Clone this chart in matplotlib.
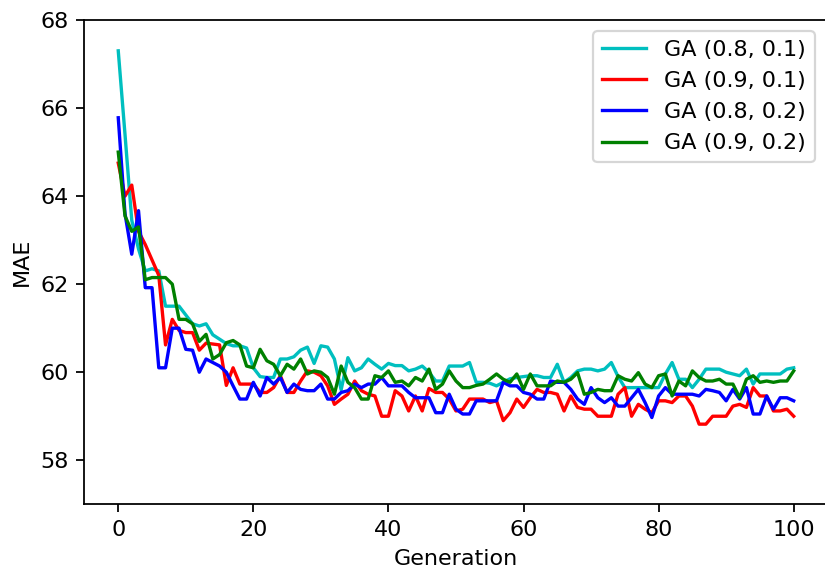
import matplotlib
matplotlib.use("Agg")
import matplotlib.pyplot as plt
import numpy as np

generations = list(range(101))

ga_08_01 = [67.3, 65.4, 63.45, 62.8, 62.3, 62.35, 62.3, 61.5, 61.5, 61.5,
            61.3, 61.1, 61.05, 61.1, 60.85, 60.75, 60.65, 60.6, 60.6, 60.55,
            60.1, 59.9, 59.88, 59.88, 60.3, 60.3, 60.35, 60.5, 60.57, 60.2,
            60.6, 60.57, 60.3, 59.6, 60.33, 60.03, 60.1, 60.3, 60.18, 60.07,
            60.2, 60.15, 60.15, 60.03, 60.07, 60.14, 60.0, 59.8, 59.8, 60.14,
            60.14, 60.14, 60.22, 59.77, 59.77, 59.75, 59.69, 59.77, 59.85, 59.88,
            59.9, 59.92, 59.92, 59.88, 59.88, 60.18, 59.77, 59.88, 60.03, 60.07,
            60.07, 60.03, 60.07, 60.22, 59.9, 59.65, 59.65, 59.65, 59.65, 59.65,
            59.65, 59.96, 60.22, 59.84, 59.84, 59.65, 59.84, 60.07, 60.07, 60.07,
            60.0, 59.96, 59.92, 60.07, 59.73, 59.96, 59.96, 59.96, 59.96, 60.07,
            60.1]

ga_09_01 = [64.75, 64.0, 64.25, 63.2, 62.9, 62.55, 62.2, 60.62, 61.2, 60.95,
            60.9, 60.9, 60.5, 60.66, 60.64, 60.62, 59.7, 60.1, 59.73, 59.73,
            59.73, 59.54, 59.54, 59.65, 59.92, 59.54, 59.54, 59.8, 60.03, 60.0,
            59.92, 59.69, 59.27, 59.39, 59.5, 59.8, 59.58, 59.5, 59.46, 59.0,
            59.0, 59.58, 59.46, 59.12, 59.46, 59.12, 59.63, 59.54, 59.54, 59.39,
            59.12, 59.16, 59.39, 59.39, 59.39, 59.31, 59.35, 58.9, 59.08, 59.39,
            59.2, 59.42, 59.61, 59.54, 59.54, 59.5, 59.12, 59.46, 59.2, 59.16,
            59.16, 59.0, 59.0, 59.0, 59.5, 59.65, 59.0, 59.27, 59.16, 59.08,
            59.35, 59.35, 59.31, 59.46, 59.46, 59.23, 58.82, 58.82, 59.0, 59.0,
            59.0, 59.23, 59.27, 59.2, 59.65, 59.46, 59.46, 59.12, 59.12, 59.16,
            59.0]

ga_08_02 = [65.78, 63.6, 62.68, 63.67, 61.92, 61.92, 60.1, 60.1, 61.0, 61.0,
            60.52, 60.5, 60.0, 60.3, 60.22, 60.14, 60.0, 59.69, 59.39, 59.39,
            59.77, 59.46, 59.88, 59.73, 59.88, 59.54, 59.73, 59.61, 59.58, 59.58,
            59.73, 59.39, 59.39, 59.54, 59.58, 59.73, 59.65, 59.73, 59.73, 59.88,
            59.69, 59.69, 59.69, 59.54, 59.42, 59.42, 59.42, 59.08, 59.08, 59.5,
            59.16, 59.05, 59.05, 59.35, 59.35, 59.35, 59.35, 59.77, 59.69, 59.69,
            59.54, 59.5, 59.39, 59.39, 59.8, 59.77, 59.77, 59.61, 59.39, 59.27,
            59.65, 59.42, 59.31, 59.42, 59.23, 59.23, 59.42, 59.61, 59.31, 58.97,
            59.46, 59.65, 59.5, 59.5, 59.5, 59.5, 59.46, 59.61, 59.58, 59.54,
            59.35, 59.61, 59.39, 59.65, 59.05, 59.05, 59.46, 59.16, 59.42, 59.42,
            59.35]

ga_09_02 = [65.0, 63.55, 63.2, 63.3, 62.1, 62.15, 62.15, 62.15, 62.0, 61.2,
            61.2, 61.1, 60.7, 60.86, 60.3, 60.4, 60.67, 60.72, 60.62, 60.14,
            60.1, 60.52, 60.26, 60.18, 59.92, 60.18, 60.07, 60.3, 59.96, 60.03,
            60.0, 59.88, 59.5, 60.14, 59.77, 59.65, 59.39, 59.39, 59.92, 59.88,
            60.03, 59.77, 59.8, 59.69, 59.88, 59.8, 60.07, 59.61, 59.73, 60.03,
            59.8, 59.65, 59.65, 59.7, 59.73, 59.84, 59.96, 59.84, 59.77, 59.96,
            59.61, 59.96, 59.69, 59.69, 59.69, 59.8, 59.77, 59.84, 59.99, 59.5,
            59.54, 59.61, 59.58, 59.58, 59.92, 59.84, 59.8, 59.99, 59.73, 59.65,
            59.92, 59.96, 59.46, 59.8, 59.69, 60.03, 59.88, 59.8, 59.8, 59.84,
            59.73, 59.73, 59.42, 59.84, 59.92, 59.77, 59.8, 59.77, 59.8, 59.8,
            60.03]

labels = ["GA (0.8, 0.1)", "GA (0.9, 0.1)", "GA (0.8, 0.2)", "GA (0.9, 0.2)"]
colors = ["c", "r", "b", "g"]
data = [ga_08_01, ga_09_01, ga_08_02, ga_09_02]

DPI = 160
fig = plt.figure(figsize=(825 / DPI, 572 / DPI), dpi=DPI)
ax = fig.add_axes([0.1024, 0.1184, 0.9006, 0.8466])
for label, vals, col in zip(labels, data, colors):
    ax.plot(generations, vals, color=col, label=label)

ax.set_xlim(-5, 105)
ax.set_ylim(57, 68)
ax.set_xticks([0, 20, 40, 60, 80, 100])
ax.set_yticks([58, 60, 62, 64, 66, 68])
ax.set_xlabel("Generation")
ax.set_ylabel("MAE")
ax.legend(loc="upper right", bbox_to_anchor=(0.998, 1.0))
fig.savefig("out.png", dpi=DPI)
